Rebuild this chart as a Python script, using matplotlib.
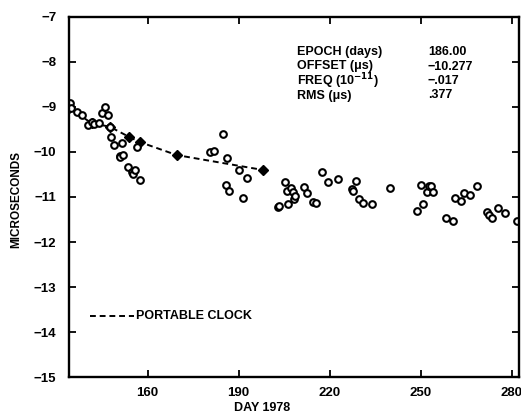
import matplotlib
matplotlib.use("Agg")
import matplotlib.pyplot as plt

plt.rcParams['font.family'] = ['Liberation Sans', 'DejaVu Sans']
plt.rcParams['font.weight'] = 'bold'

# portable clock (dashed line)
clock_day = [134.0, 141.5, 147.5, 154.0, 157.4, 169.6, 198.0]
clock_us = [-9.02, -9.36, -9.44, -9.67, -9.78, -10.07, -10.40]

# open-circle measurements
obs_day = [134.4, 134.8, 136.6, 138.5, 140.2, 141.5, 142.3, 144.0, 144.8, 145.8,
           147.0, 147.5, 148.0, 149.0, 150.8, 151.0, 151.4, 151.8, 153.4, 154.7,
           155.2, 155.7, 156.4, 157.4, 180.5, 181.8, 184.8, 185.7, 186.0, 186.8,
           190.0, 191.4, 192.7, 203.0, 203.2, 205.2, 205.9, 206.2, 207.2, 207.8,
           208.2, 208.6, 211.5, 212.5, 214.5, 215.4, 217.4, 219.4, 222.7, 227.3,
           227.8, 228.6, 229.6, 231.0, 234.0, 240.0, 248.8, 250.0, 250.8, 252.0,
           252.8, 253.5, 254.0, 258.3, 260.6, 261.3, 263.3, 264.3, 266.3, 268.6,
           271.9, 272.5, 273.5, 275.5, 277.8, 281.8]
obs_us = [-8.91, -9.02, -9.11, -9.18, -9.40, -9.33, -9.38, -9.36, -9.13, -9.00,
          -9.18, -9.44, -9.67, -9.84, -10.08, -10.12, -9.80, -10.06, -10.33, -10.44,
          -10.48, -10.40, -9.89, -10.62, -10.00, -9.98, -9.60, -10.73, -10.13, -10.87,
          -10.40, -11.02, -10.58, -11.22, -11.20, -10.67, -10.87, -11.16, -10.80, -10.89,
          -11.04, -10.97, -10.78, -10.91, -11.11, -11.13, -10.44, -10.67, -10.60, -10.82,
          -10.86, -10.64, -11.04, -11.13, -11.16, -10.80, -11.31, -10.73, -11.16, -10.89,
          -10.76, -10.76, -10.89, -11.47, -11.53, -11.02, -11.09, -10.91, -10.96, -10.76,
          -11.33, -11.40, -11.47, -11.24, -11.36, -11.53]

xticks = [160, 190, 220, 250, 280]
yticks = [-7, -8, -9, -10, -11, -12, -13, -14, -15]

info_labels = ["EPOCH (days)", "OFFSET (\u03bcs)", "FREQ (10$^{-11}$)", "RMS (\u03bcs)"]
info_values = ["186.00", "\u221210.277", "\u2212.017", ".377"]

fig = plt.figure(figsize=(5.21, 4.2), dpi=100)
ax = fig.add_axes([0.132, 0.102, 0.864, 0.858])

ax.plot(clock_day, clock_us, color='black', lw=1.4, dashes=(3, 2),
        marker='D', markersize=5, markerfacecolor='black', markeredgecolor='black')
ax.plot(obs_day, obs_us, linestyle='none', marker='o', markersize=4.8,
        markerfacecolor='white', markeredgecolor='black', markeredgewidth=1.5)

ax.set_xlim(134, 282.4)
ax.set_ylim(-15, -7)
ax.set_xticks(xticks)
ax.set_yticks(yticks)
ax.tick_params(direction='in', length=5, width=1.3, top=True, right=True,
               labelsize=9.5, pad=7)
ax.tick_params(axis='y', pad=9)
for s in ax.spines.values():
    s.set_linewidth(1.7)

for i, (lab, val) in enumerate(zip(info_labels, info_values)):
    y = 52 + i * 14.5
    fig.text(297 / 521, 1 - y / 420, lab, fontsize=9, fontweight='bold', va='center')
    fig.text(428 / 521, 1 - y / 420, val, fontsize=9, fontweight='bold', va='center')

# legend for portable clock
ax.plot([141, 155.5], [-13.65, -13.65], color='black', lw=1.4, dashes=(3, 2))
ax.text(156, -13.65, "PORTABLE CLOCK", fontsize=9, fontweight='bold', va='center')

fig.text(16 / 521, 1 - 199 / 420, "MICROSECONDS", rotation=90, fontsize=8.5,
         fontweight='bold', ha='center', va='center')
fig.text(262 / 521, 1 - 408 / 420, "DAY 1978", fontsize=9, fontweight='bold',
         ha='center', va='center')

fig.savefig("out.png", dpi=100)
